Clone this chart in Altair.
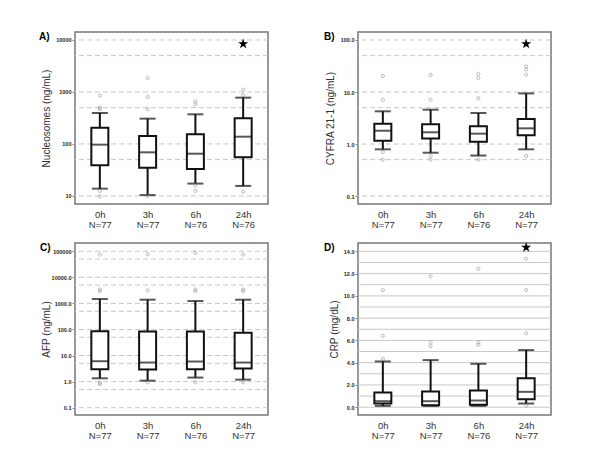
import altair as alt
import pandas as pd

TIMES = ["0h", "3h", "6h", "24h"]

# Panel A: Nucleosomes
A_N = [77, 77, 76, 76]
A_LO = [13.8, 10.4, 17.3, 15.6]
A_Q1 = [38.9, 35.0, 33.0, 55.4]
A_MED = [97, 69, 65, 138]
A_Q3 = [206, 143, 153, 312]
A_HI = [394, 307, 372, 778]
A_OUT = [[850, 500, 470, 12.5, 9.8], [1860, 801, 464, 10.0], [661, 588, 16.0, 12.5], [1109, 875, 12.1]]
A_STAR = 8380

# Panel B: CYFRA 21-1
B_N = [77, 77, 76, 77]
B_LO = [0.79, 0.68, 0.60, 0.79]
B_Q1 = [1.16, 1.27, 1.11, 1.47]
B_MED = [1.80, 1.68, 1.58, 2.0]
B_Q3 = [2.46, 2.39, 2.19, 3.03]
B_HI = [4.25, 4.57, 3.95, 9.4]
B_OUT = [[20.3, 7.1, 0.70, 0.5], [21.2, 7.1, 0.59, 0.5], [22.5, 18.6, 7.6, 0.5], [31.2, 27.3, 21.5, 0.59]]
B_STAR = 83.8

# Panel C: AFP
C_N = [77, 77, 76, 77]
C_LO = [1.34, 1.09, 1.43, 1.19]
C_Q1 = [2.98, 2.9, 2.98, 3.16]
C_MED = [6.06, 5.38, 5.9, 5.38]
C_Q3 = [86, 83.8, 83.8, 74.5]
C_HI = [1468, 1384, 1230, 1384]
C_OUT = [[74500, 3400, 2950, 0.9, 0.8], [76700, 3162, 0.94], [86300, 3400, 2950, 0.94], [74500, 3400, 2950, 0.94]]

# Panel D: CRP
D_N = [77, 77, 76, 77]
D_LO = [0.12, 0.12, 0.12, 0.33]
D_Q1 = [0.33, 0.18, 0.21, 0.72]
D_MED = [0.54, 0.54, 0.6, 1.38]
D_Q3 = [1.32, 1.41, 1.5, 2.61]
D_HI = [4.11, 4.23, 3.9, 5.13]
D_OUT = [[10.52, 6.41, 4.35], [11.75, 5.82, 5.49], [12.44, 5.82, 5.6], [13.34, 10.52, 6.65, 0.15]]
D_STAR = 14.36

STAR = ("M0,-1L0.2245,-0.309L0.9511,-0.309L0.3633,0.118L0.5878,0.809L0,0.382"
        "L-0.5878,0.809L-0.3633,0.118L-0.9511,-0.309L-0.2245,-0.309Z")

W, H = 193, 172
FONT = "Liberation Sans"


def panel(letter, letter_dx, ytitle, title_x, ns, lo, q1, med, q3, hi, outs, star,
          domain, log, grid_vals, tick_vals, label_expr, dashed):
    labs = [f"{t}|N={n}" for t, n in zip(TIMES, ns)]
    box = pd.DataFrame({"lab": labs, "lo": lo, "q1": q1, "med": med, "q3": q3, "hi": hi})
    out_rows = [{"lab": l, "v": v} for l, vs in zip(labs, outs) for v in vs]
    outdf = pd.DataFrame(out_rows)
    grid = pd.DataFrame({"g": grid_vals})

    if log:
        ysc = alt.Scale(type="log", domain=domain, nice=False)
    else:
        ysc = alt.Scale(domain=domain, nice=False, zero=False)
    yax = alt.Axis(values=tick_vals, labelExpr=label_expr, grid=False, domain=False,
                   tickSize=3, tickColor="#888", labelFontSize=5.5, labelFontWeight="bold",
                   labelColor="#222", labelPadding=1, labelFont=FONT,
                   title=ytitle, titleFontSize=10, titleFontWeight="normal",
                   titleColor="#333", titleFont=FONT, titleX=title_x, titleY=H / 2,
                   titleBaseline="middle", titleAlign="center", titleAngle=-90)
    xsc = alt.Scale(type="point", padding=0.52, domain=labs)
    xax = alt.Axis(title=None, labelExpr="split(datum.label, '|')", ticks=False, domain=False,
                   grid=False, labelPadding=5, labelFontSize=9.5, labelColor="#333",
                   labelFont=FONT, labelLineHeight=10, labelAngle=0)
    X = alt.X("lab:N", scale=xsc, axis=xax)

    gl = alt.Chart(grid).mark_rule(color="#c8c8c8", strokeWidth=1,
                                   strokeDash=[5, 3] if dashed else [1, 0]).encode(
        y=alt.Y("g:Q", scale=ysc, axis=yax))
    base = alt.Chart(box)
    wh = base.mark_rule(color="#111", strokeWidth=2).encode(
        x=X, y=alt.Y("lo:Q", scale=ysc, axis=yax), y2="hi:Q")
    bx = base.mark_bar(size=17, fill="white", stroke="#111", strokeWidth=2).encode(
        x=X, y=alt.Y("q1:Q", scale=ysc, axis=yax), y2="q3:Q")
    md = base.mark_tick(size=17, thickness=2, color="#111").encode(
        x=X, y=alt.Y("med:Q", scale=ysc, axis=yax))
    cl = base.mark_tick(size=16, thickness=2, color="#111").encode(
        x=X, y=alt.Y("lo:Q", scale=ysc, axis=yax))
    ch = base.mark_tick(size=16, thickness=2, color="#111").encode(
        x=X, y=alt.Y("hi:Q", scale=ysc, axis=yax))
    op = alt.Chart(outdf).mark_point(shape="circle", size=10, color="#888",
                                     strokeWidth=0.8, filled=False).encode(
        x=X, y=alt.Y("v:Q", scale=ysc, axis=yax))
    layers = [gl, wh, bx, md, cl, ch, op]
    if star is not None:
        sd = pd.DataFrame({"lab": [labs[3]], "v": [star]})
        st = alt.Chart(sd).mark_point(shape=STAR, size=115, filled=True, color="black",
                                      opacity=1).encode(
            x=X, y=alt.Y("v:Q", scale=ysc, axis=yax))
        layers.append(st)
    lt = alt.Chart(pd.DataFrame({"t": [letter]})).mark_text(
        align="left", baseline="top", fontWeight="bold", fontSize=10, font=FONT,
        color="black").encode(x=alt.value(letter_dx), y=alt.value(0), text="t:N")
    layers.append(lt)
    return alt.layer(*layers).properties(width=W, height=H)


pA = panel("A)", -36, "Nucleosomes (ng/mL)", -29, A_N, A_LO, A_Q1, A_MED, A_Q3, A_HI, A_OUT,
           A_STAR, [7.0, 14250], True, [10, 50, 100, 500, 1000, 5000, 10000],
           [10, 100, 1000, 10000], "format(datum.value, 'd')", True)
pB = panel("B)", -34, "CYFRA 21-1  (ng/mL)", -28, B_N, B_LO, B_Q1, B_MED, B_Q3, B_HI, B_OUT,
           B_STAR, [0.0702, 142.5], True, [0.1, 0.5, 1, 5, 10, 50, 100],
           [0.1, 1, 10, 100], "format(datum.value, '.1f')", True)
pC = panel("C)", -35, "AFP (ng/mL)", -29, C_N, C_LO, C_Q1, C_MED, C_Q3, C_HI, C_OUT,
           None, [0.0525, 206500], True,
           [0.1, 0.5, 1, 5, 10, 50, 100, 500, 1000, 5000, 10000, 50000, 100000],
           [0.1, 1, 10, 100, 1000, 10000, 100000],
           "datum.value >= 100000 ? '100000' : format(datum.value, '.1f')", True)
pD = panel("D)", -34, "CRP (mg/dL)", -24, D_N, D_LO, D_Q1, D_MED, D_Q3, D_HI, D_OUT,
           D_STAR, [-0.7, 14.75], False, list(range(0, 15)),
           [0, 2, 4, 6, 8, 10, 12, 14], "format(datum.value, '.1f')", False)

chart = alt.concat(pA, pB, pC, pD, columns=2, spacing={"row": 39, "column": 90},
                   bounds="flush").properties(
    padding={"left": 30, "top": 23, "right": 5, "bottom": 5},
    background="white",
).configure_view(stroke="#777", strokeWidth=1.5)

chart.save("out.html", embed_options={"renderer": "svg", "actions": False})
